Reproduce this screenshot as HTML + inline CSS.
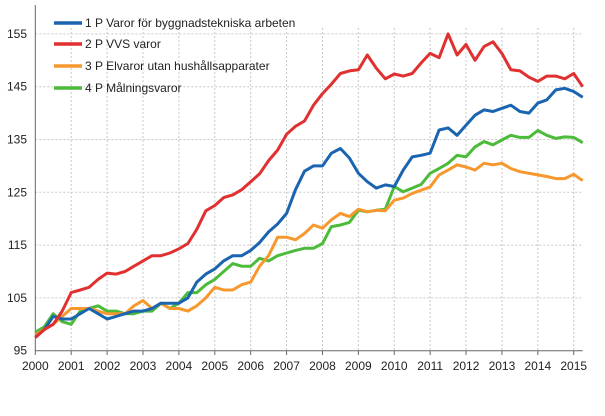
<!DOCTYPE html>
<html><head><meta charset="utf-8"><style>
body{margin:0;background:#fff;}
svg{display:block;font-family:"Liberation Sans",sans-serif;}
</style></head><body>
<svg id="chart" width="605" height="416"></svg>
<script>
const years=[2000,2001,2002,2003,2004,2005,2006,2007,2008,2009,2010,2011,2012,2013,2014,2015];
const yTicks=[95,105,115,125,135,145,155];
const seriesNames=["1 P Varor för byggnadstekniska arbeten","2 P VVS varor","3 P Elvaror utan hushållsapparater","4 P Målningsvaror"];
const blueVals=[97.5,99,101.5,101,101,102,103,102,101,101.5,102,102.5,102.5,103,104,104,104,105,108,109.5,110.5,112,113,113,114,115.5,117.5,119,121,125.5,129,130,130,132.4,133.3,131.5,128.6,127,125.8,126.4,126.1,129.2,131.7,132,132.4,136.8,137.2,135.8,137.7,139.6,140.6,140.3,140.9,141.5,140.3,140,141.9,142.5,144.4,144.7,144.1,143];
const redVals=[97.5,99,100,102.5,106,106.5,107,108.5,109.7,109.5,110,111,112,113,113,113.5,114.3,115.3,118,121.5,122.5,124,124.5,125.5,127,128.5,131,133,136,137.5,138.5,141.5,143.7,145.5,147.5,148,148.2,151,148.5,146.5,147.4,147,147.5,149.5,151.3,150.5,155,151,153,150,152.6,153.5,151.3,148.2,148,146.8,146,147,147,146.5,147.5,145];
const orangeVals=[98,99,100,101.5,103,103,103,102.5,102,102,102,103.5,104.5,103,104,103,103,102.5,103.5,105,107,106.5,106.5,107.5,108,111,113,116.5,116.5,116,117.2,118.8,118.2,119.8,121,120.4,121.8,121.3,121.6,121.5,123.5,123.9,124.8,125.4,126,128.3,129.2,130.2,129.8,129.2,130.5,130.2,130.5,129.5,128.9,128.6,128.3,128,127.6,127.6,128.4,127.2];
const greenVals=[98.5,99.5,102,100.5,100,102.5,103,103.5,102.5,102.5,102,102,102.5,102.5,104,103,104,106,106,107.5,108.5,110,111.5,111,111,112.5,112,113,113.5,114,114.4,114.4,115.3,118.5,118.8,119.3,121.6,121.3,121.6,121.8,126.1,125.1,125.8,126.5,128.6,129.5,130.5,132,131.7,133.6,134.6,134,134.9,135.8,135.4,135.4,136.7,135.8,135.2,135.5,135.4,134.4];
const colors=["#1a64b0","#e03030","#f7982e","#4cbb3a"];
const NS="http://www.w3.org/2000/svg";
const svg=document.getElementById("chart");
const X0=35.3,X1=582.7,T0=2000,T1=2015.25;
const xs=t=>X0+(t-T0)*(X1-X0)/(T1-T0);
const ys=v=>350.7-(v-95)*5.28;
function mk(tag,attrs){const e=document.createElementNS(NS,tag);for(const k in attrs)e.setAttribute(k,attrs[k]);svg.appendChild(e);return e;}
yTicks.forEach(v=>{
 if(v>95){const g=mk("line",{x1:X0,x2:X1,y1:ys(v),y2:ys(v),stroke:"#c8c8c8","stroke-dasharray":"2,2"});
 
 }
 const t=mk("text",{x:27,y:ys(v)+4,"text-anchor":"end","font-size":"12",fill:"#222"});t.textContent=v;
 
 
});
years.forEach(yr=>{
 if(yr>2000){const g=mk("line",{x1:xs(yr),x2:xs(yr),y1:28,y2:350.7,stroke:"#c8c8c8","stroke-dasharray":"2,2"});
 
 }
 const k=mk("line",{x1:xs(yr),x2:xs(yr),y1:350.7,y2:355,stroke:"#666"});
 
 
 const t=mk("text",{x:xs(yr),y:370,"text-anchor":"middle","font-size":"12",fill:"#222"});t.textContent=yr;
 
 
});
const ax=mk("line",{x1:X0,x2:X0,y1:5,y2:350.7,stroke:"#666"});


const bx=mk("line",{x1:X0,x2:X1,y1:350.7,y2:350.7,stroke:"#666"});


const all=[blueVals,redVals,orangeVals,greenVals];
const order=[3,2,0,1];
order.forEach(i=>{
 const d=all[i].map((v,j)=>(j?"L":"M")+xs(T0+j*0.25).toFixed(1)+","+ys(v).toFixed(1)).join("");
 const p=mk("path",{d:d,fill:"none",stroke:colors[i],"stroke-width":"3","stroke-linejoin":"round"});
 
 
});
const ly=[23,44,66,88];
seriesNames.forEach((n,i)=>{
 const l=mk("line",{x1:54,x2:82,y1:ly[i],y2:ly[i],stroke:colors[i],"stroke-width":"3.5"});
 
 
 const t=mk("text",{x:85,y:ly[i]+4,"font-size":"12",fill:"#222"});t.textContent=n;
 
 
});
</script>
</body></html>
